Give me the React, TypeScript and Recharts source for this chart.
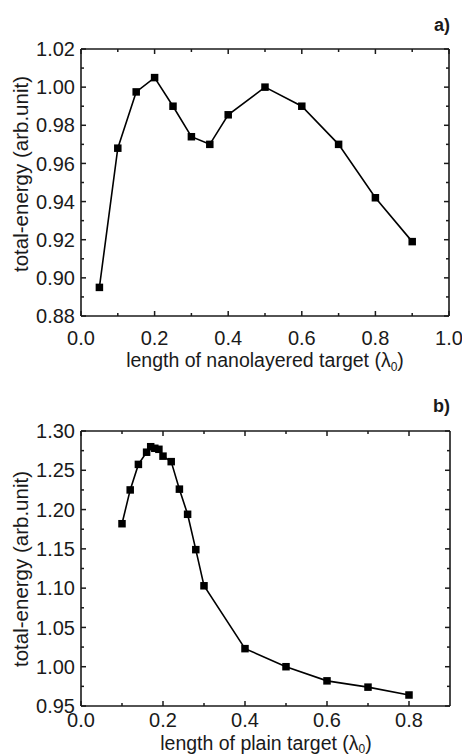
import React from 'react';
import { LineChart, Line, XAxis, YAxis } from 'recharts';

// Panel a) nanolayered target
const nanoLength = [0.05, 0.1, 0.15, 0.2, 0.25, 0.3, 0.35, 0.4, 0.5, 0.6, 0.7, 0.8, 0.9];
const nanoEnergy = [0.895, 0.968, 0.9975, 1.005, 0.99, 0.974, 0.97, 0.9855, 1.0, 0.99, 0.97, 0.942, 0.919];

// Panel b) plain target
const plainLength = [0.1, 0.12, 0.14, 0.16, 0.17, 0.18, 0.19, 0.2, 0.22, 0.24, 0.26, 0.28, 0.3, 0.4, 0.5, 0.6, 0.7, 0.8];
const plainEnergy = [1.182, 1.225, 1.2575, 1.273, 1.28, 1.278, 1.2767, 1.268, 1.261, 1.226, 1.194, 1.149, 1.103, 1.023, 1.0, 0.982, 0.974, 0.964];

// Tick values
const xMajorA = [0, 0.2, 0.4, 0.6, 0.8, 1.0];
const xMinorA = [0.1, 0.3, 0.5, 0.7, 0.9];
const yMajorA = [0.88, 0.9, 0.92, 0.94, 0.96, 0.98, 1.0, 1.02];
const yMinorA = [0.89, 0.91, 0.93, 0.95, 0.97, 0.99, 1.01];

const xMajorB = [0, 0.2, 0.4, 0.6, 0.8];
const xMinorB = [0.1, 0.3, 0.5, 0.7];
const yMajorB = [0.95, 1.0, 1.05, 1.1, 1.15, 1.2, 1.25, 1.3];
const yMinorB = [0.975, 1.025, 1.075, 1.125, 1.175, 1.225, 1.275];

const xTitleA = 'length of nanolayered target (';
const xTitleB = 'length of plain target (';
const yTitle = 'total-energy (arb.unit)';

const FONT = '"Liberation Sans", Arial, Helvetica, sans-serif';
const INK = '#1a1a1a';

const dataA = nanoLength.map((x, i) => ({ x, e: nanoEnergy[i] }));
const dataB = plainLength.map((x, i) => ({ x, e: plainEnergy[i] }));

const sortNum = (a: number[]) => [...a].sort((p, q) => p - q);

function makeTick(side: string, majors: number[], digits: number | null, labelOffset: number) {
  return (props: any) => {
    const { x, y, payload } = props;
    const v = payload.value;
    const major = majors.some((m) => Math.abs(m - v) < 1e-6);
    const len = major ? 5 : 3;
    let line: any = null;
    if (side === 'bottom') line = <line x1={x} y1={y} x2={x} y2={y - len} />;
    if (side === 'top') line = <line x1={x} y1={y} x2={x} y2={y + len} />;
    if (side === 'left') line = <line x1={x} y1={y} x2={x + len} y2={y} />;
    if (side === 'right') line = <line x1={x} y1={y} x2={x - len} y2={y} />;
    let label: any = null;
    if (major && digits !== null) {
      const txt = Number(v).toFixed(digits);
      if (side === 'bottom')
        label = (
          <text x={x} y={y + labelOffset} textAnchor="middle" fontSize={20} fontFamily={FONT} fill={INK} stroke="none">
            {txt}
          </text>
        );
      if (side === 'left')
        label = (
          <text x={x - labelOffset} y={y} dy="0.36em" textAnchor="end" fontSize={20} fontFamily={FONT} fill={INK} stroke="none">
            {txt}
          </text>
        );
    }
    return (
      <g stroke={INK} strokeWidth={1.5}>
        {line}
        {label}
      </g>
    );
  };
}

const squareDot = (props: any) => {
  const { cx, cy, index } = props;
  return <rect key={`d${index}`} x={cx - 3.75} y={cy - 3.75} width={7.5} height={7.5} fill="#000" />;
};

function Panel(props: {
  data: any[];
  xDomain: [number, number];
  yDomain: [number, number];
  xMajor: number[];
  xMinor: number[];
  yMajor: number[];
  yMinor: number[];
  yDigits: number;
  xLabelOffset: number;
  height: number;
  plotTop: number;
  plotBottom: number;
  plotLeft: number;
  plotRight: number;
}) {
  const xt = sortNum([...props.xMajor, ...props.xMinor]);
  const yt = sortNum([...props.yMajor, ...props.yMinor]);
  const axisLine = { stroke: INK, strokeWidth: 1.6 };
  const margin = {
    top: props.plotTop - 1,
    bottom: props.height - props.plotBottom - 30,
    left: props.plotLeft - 60,
    right: 462 - props.plotRight - 1,
  };
  return (
    <LineChart width={462} height={props.height} data={props.data} margin={margin}>
      <XAxis
        dataKey="x"
        type="number"
        domain={props.xDomain}
        allowDataOverflow
        ticks={xt}
        interval={0}
        height={30}
        tickSize={0}
        tickMargin={0}
        tickLine={false}
        axisLine={axisLine}
        tick={makeTick('bottom', props.xMajor, 1, props.xLabelOffset)}
      />
      <XAxis
        xAxisId="top"
        orientation="top"
        dataKey="x"
        type="number"
        domain={props.xDomain}
        allowDataOverflow
        ticks={xt}
        interval={0}
        height={1}
        tickSize={0}
        tickMargin={0}
        tickLine={false}
        axisLine={axisLine}
        tick={makeTick('top', props.xMajor, null, 0)}
      />
      <YAxis
        type="number"
        domain={props.yDomain}
        allowDataOverflow
        ticks={yt}
        interval={0}
        width={60}
        tickSize={0}
        tickMargin={0}
        tickLine={false}
        axisLine={axisLine}
        tick={makeTick('left', props.yMajor, props.yDigits, 6)}
      />
      <YAxis
        yAxisId="right"
        orientation="right"
        type="number"
        domain={props.yDomain}
        allowDataOverflow
        ticks={yt}
        interval={0}
        width={1}
        tickSize={0}
        tickMargin={0}
        tickLine={false}
        axisLine={axisLine}
        tick={makeTick('right', props.yMajor, null, 0)}
      />
      <Line
        type="linear"
        dataKey="e"
        stroke="#000"
        strokeWidth={1.6}
        dot={squareDot}
        activeDot={false}
        isAnimationActive={false}
      />
    </LineChart>
  );
}

export default function App() {
  const xTitleStyle = { fontFamily: FONT, fontSize: 19.5, fill: INK } as any;
  const yTitleStyle = { fontFamily: FONT, fontSize: 20.5, fill: INK } as any;
  return (
    <div style={{ position: 'absolute', left: 0, top: 0, width: 462, height: 756, background: '#fff', overflow: 'hidden' }}>
      <div style={{ position: 'absolute', left: 0, top: 0 }}>
        <Panel
          data={dataA}
          xDomain={[0, 1]}
          yDomain={[0.88, 1.02]}
          xMajor={xMajorA}
          xMinor={xMinorA}
          yMajor={yMajorA}
          yMinor={yMinorA}
          yDigits={2}
          xLabelOffset={29}
          height={380}
          plotTop={49}
          plotBottom={316}
          plotLeft={81}
          plotRight={449}
        />
      </div>
      <div style={{ position: 'absolute', left: 0, top: 380 }}>
        <Panel
          data={dataB}
          xDomain={[0, 0.9]}
          yDomain={[0.95, 1.3]}
          xMajor={xMajorB}
          xMinor={xMinorB}
          yMajor={yMajorB}
          yMinor={yMinorB}
          yDigits={2}
          xLabelOffset={21}
          height={376}
          plotTop={51}
          plotBottom={326}
          plotLeft={81}
          plotRight={450}
        />
      </div>
      <svg width={462} height={756} style={{ position: 'absolute', left: 0, top: 0, pointerEvents: 'none' }}>
        <text x={450} y={31} textAnchor="end" fontFamily={FONT} fontSize={18} fontWeight="bold" fill={INK}>a)</text>
        <text x={450} y={412} textAnchor="end" fontFamily={FONT} fontSize={18} fontWeight="bold" fill={INK}>b)</text>
        <text x={28} y={174} transform="rotate(-90, 28, 174)" textAnchor="middle" style={yTitleStyle}>{yTitle}</text>
        <text x={28} y={569} transform="rotate(-90, 28, 569)" textAnchor="middle" style={yTitleStyle}>{yTitle}</text>
        <text x={265} y={367} textAnchor="middle" style={xTitleStyle}>
          {xTitleA}λ<tspan fontSize={12} dy={4}>0</tspan><tspan dy={-4}>)</tspan>
        </text>
        <text x={266} y={750} textAnchor="middle" style={xTitleStyle}>
          {xTitleB}λ<tspan fontSize={12} dy={3}>0</tspan><tspan dy={-3}>)</tspan>
        </text>
      </svg>
    </div>
  );
}
